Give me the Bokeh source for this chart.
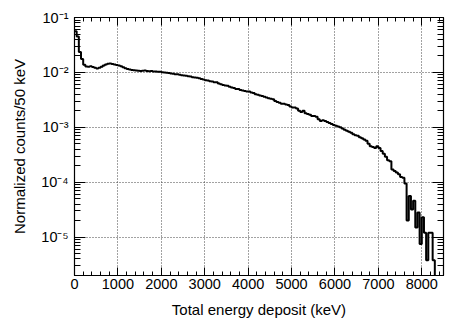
import numpy as np
from bokeh.plotting import figure
from bokeh.models import (LinearAxis, LogAxis, FixedTicker, CustomJSTickFormatter, Range1d)
from bokeh.embed import file_html
from bokeh.resources import INLINE

# Histogram: normalized counts per 50 keV bin, bins start at 0 keV
bin_width = 50
counts = [
    0.056, 0.045, 0.0235, 0.0175, 0.0138, 0.0128, 0.0127, 0.0129, 0.0126, 0.0121,  # 0-450
    0.0118, 0.0121, 0.0127, 0.0133, 0.0139, 0.0144, 0.0146, 0.0143, 0.0140, 0.0136,  # 500-950
    0.0133, 0.0129, 0.0124, 0.0119, 0.0115, 0.0113, 0.0111, 0.0109, 0.0108, 0.0107,  # 1000-1450
    0.0106, 0.0107, 0.0108, 0.0106, 0.0105, 0.0106, 0.0104, 0.0104, 0.0103, 0.0103,  # 1500-1950
    0.0101, 0.0100, 0.0099, 0.0098, 0.0096, 0.0095, 0.0093, 0.0093, 0.0091, 0.0089,  # 2000-2450
    0.0088, 0.0087, 0.0085, 0.0084, 0.0082, 0.0081, 0.0080, 0.0078, 0.0076, 0.0074,  # 2500-2950
    0.0072, 0.0071, 0.0069, 0.0068, 0.0066, 0.0066, 0.0063, 0.0061, 0.0059, 0.0058,  # 3000-3450
    0.0057, 0.0055, 0.0053, 0.0052, 0.0050, 0.0050, 0.0048, 0.0047, 0.0046, 0.0045,  # 3500-3950
    0.0045, 0.0043, 0.0042, 0.0040, 0.0039, 0.0038, 0.0037, 0.0036, 0.0035, 0.0034,  # 4000-4450
    0.0033, 0.00325, 0.0030, 0.0029, 0.0028, 0.0027, 0.0027, 0.0026, 0.00255, 0.0024,  # 4500-4950
    0.0023, 0.0023, 0.0022, 0.0020, 0.0019, 0.0020, 0.0018, 0.00175, 0.0017, 0.0016,  # 5000-5450
    0.0016, 0.00155, 0.0014, 0.0013, 0.00135, 0.0013, 0.00125, 0.0012, 0.00115, 0.0011,  # 5500-5950
    0.00107, 0.00104, 0.0010, 0.00095, 0.0009, 0.00087, 0.00083, 0.0008, 0.00075, 0.00072,  # 6000-6450
    0.0007, 0.00066, 0.00063, 0.0006, 0.00057, 0.0005, 0.00045, 0.00044, 0.00042, 0.00045,  # 6500-6950
    0.00042, 0.00037, 0.00033, 0.00029, 0.00025, 0.00024, 0.00017, 0.00016, 0.00015, 0.00014,  # 7000-7450
    0.000125, 0.00012, 0.000095, 2.0e-5, 5.6e-5, 3.2e-5, 4.6e-5, 1.5e-5, 2.8e-5, 7.5e-6,  # 7500-7950
    2.3e-5, 1.2e-5, 3.8e-6, 1.2e-5, 1.2e-5, 3.8e-6, 1e-7, 1e-7, 1e-7, 1e-7,  # 8000-8450
]
edges = [i * bin_width for i in range(len(counts) + 1)]

x_major = [0, 1000, 2000, 3000, 4000, 5000, 6000, 7000, 8000]
y_major = [1e-5, 1e-4, 1e-3, 1e-2, 1e-1]

x_minor = [v for v in range(0, 8600, 200)]
y_minor = []
for e in range(-6, -1):
    for m in range(1, 10):
        y_minor.append(m * 10.0 ** e)

FONT = "Liberation Sans"

p = figure(width=466, height=328, y_axis_type="log",
           x_range=Range1d(0, 8500), y_range=Range1d(2e-6, 1e-1),
           output_backend="svg", toolbar_location=None,
           min_border_left=74, min_border_right=23,
           min_border_top=17, min_border_bottom=53)

p.background_fill_color = "white"
p.border_fill_color = "white"
p.outline_line_color = "black"
p.outline_line_width = 1.2

xticker = FixedTicker(ticks=x_major, minor_ticks=x_minor)
yticker = FixedTicker(ticks=y_major, minor_ticks=y_minor)

sup_code = """
const e = Math.round(Math.log10(tick));
const sup = {'-':'\u207b','0':'\u2070','1':'\u00b9','2':'\u00b2','3':'\u00b3','4':'\u2074','5':'\u2075','6':'\u2076','7':'\u2077','8':'\u2078','9':'\u2079'};
return '10' + String(e).split('').map(c => sup[c]).join('');
"""

xa = p.xaxis[0]
xa.ticker = xticker
xa.axis_label = "Total energy deposit (keV)"
ya = p.yaxis[0]
ya.ticker = yticker
ya.formatter = CustomJSTickFormatter(code=sup_code)
ya.axis_label = "Normalized counts/50 keV"

for ax in (xa, ya):
    ax.axis_line_color = "black"
    ax.major_tick_line_color = "black"
    ax.minor_tick_line_color = "black"
    ax.major_tick_out = 0
    ax.minor_tick_out = 0
    ax.major_label_text_font = FONT
    ax.major_label_text_font_size = "14.5px"
    ax.major_label_text_color = "black"
    ax.axis_label_text_font = FONT
    ax.axis_label_text_font_size = "15px"
    ax.axis_label_text_font_style = "normal"
    ax.axis_label_text_color = "black"

xa.major_tick_in = 8
xa.minor_tick_in = 4
xa.major_label_standoff = 3
xa.axis_label_standoff = 9
ya.major_tick_in = 11
ya.minor_tick_in = 6
ya.major_label_standoff = 6
ya.axis_label_standoff = 10

top = LinearAxis(ticker=xticker, formatter=CustomJSTickFormatter(code="return ''"),
                 major_tick_in=8, major_tick_out=0, minor_tick_in=4, minor_tick_out=0,
                 major_label_standoff=0, major_label_text_font_size="1px",
                 axis_line_color=None, major_tick_line_color="black", minor_tick_line_color="black")
p.add_layout(top, "above")
right = LogAxis(ticker=yticker, formatter=CustomJSTickFormatter(code="return ''"),
                major_tick_in=11, major_tick_out=0, minor_tick_in=6, minor_tick_out=0,
                major_label_standoff=0, major_label_text_font_size="1px",
                axis_line_color=None, major_tick_line_color="black", minor_tick_line_color="black")
p.add_layout(right, "right")

for g, t in ((p.xgrid[0], xticker), (p.ygrid[0], yticker)):
    g.ticker = t
    g.grid_line_color = "#444444"
    g.grid_line_dash = "1 2"
    g.grid_line_width = 1

p.step(x=edges, y=counts + [counts[-1]], mode="after", line_color="black", line_width=2)

open("out.html", "w").write(file_html(p, INLINE))
